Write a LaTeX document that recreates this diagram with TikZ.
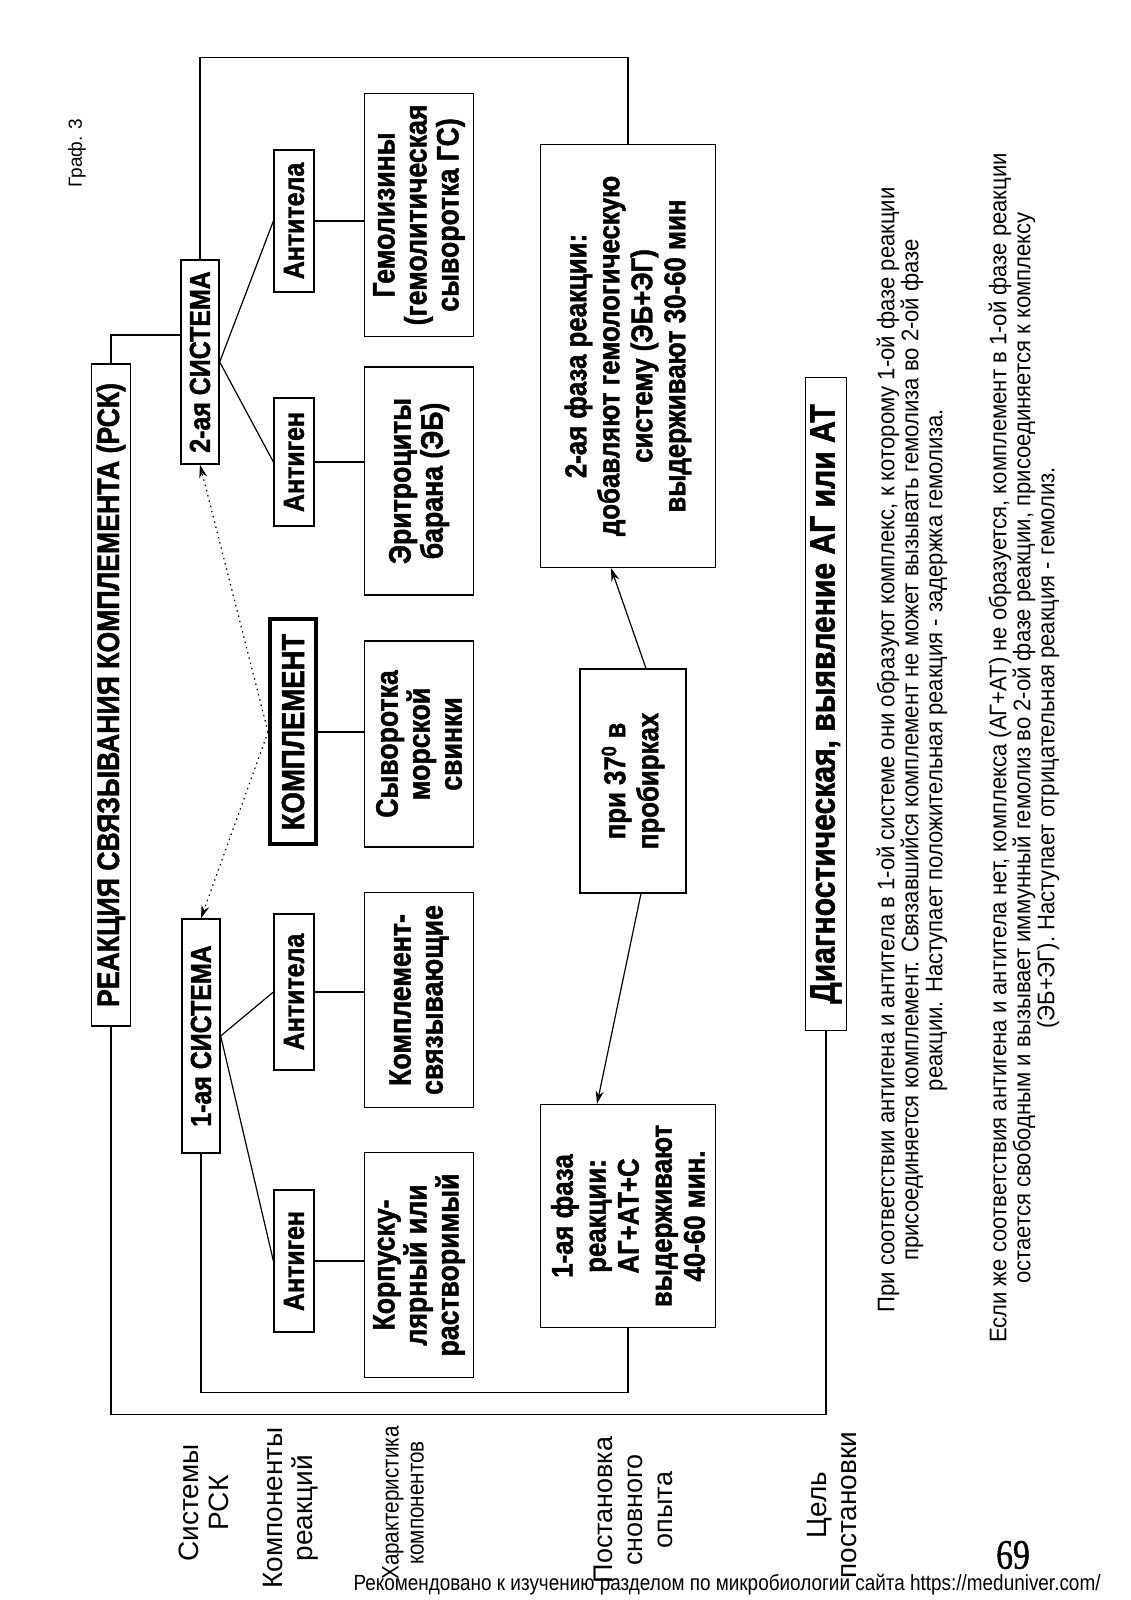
\documentclass[tikz,border=0pt]{standalone}
\usepackage{fontspec}
\setmainfont{Liberation Sans}
\newfontfamily\narrowsf{Liberation Sans}[FakeStretch=0.86, BoldFeatures={FakeBold=1.5}]
\newfontfamily\notesf{Liberation Sans}[FakeStretch=0.92]
\newfontfamily\numfont{Liberation Serif}[FakeStretch=0.8, FakeBold=1]
\usetikzlibrary{arrows.meta}

\begin{document}
\begin{tikzpicture}[x=1pt, y=1pt, line width=1.2pt, >={Stealth[length=13pt, width=8pt]},
  every node/.style={align=center, inner sep=0pt},
  bigbox/.style={draw, line width=1.4pt, font=\narrowsf\bfseries\fontsize{31}{33}\selectfont},
  sysbox/.style={draw, line width=1.4pt, minimum height=38pt, font=\narrowsf\bfseries\fontsize{29}{31}\selectfont},
  compbox/.style={draw, minimum height=40pt, font=\narrowsf\bfseries\fontsize{29}{31}\selectfont},
  charbox/.style={draw, minimum height=109pt, font=\narrowsf\bfseries\fontsize{31}{32}\selectfont},
  phasebox/.style={draw, font=\narrowsf\bfseries\fontsize{30}{33}\selectfont},
  rowlabel/.style={font=\fontsize{28}{30}\selectfont},
  notetext/.style={font=\notesf\fontsize{24}{24}\selectfont},
  dotarrow/.style={->, dash pattern=on 1.4pt off 4pt}]

% page
\fill[white] (0,0) rectangle (1131,1600);
\useasboundingbox (0,0) rectangle (1131,1600);

\begin{scope}[shift={(1131,0)}, rotate=90, transform shape]

% Nodes (landscape layout)
\node (graf) at (1447,1054) [font=\fontsize{19}{21}\selectfont] {Граф. 3};
\node (title) at (905,1020) [bigbox, minimum width=662pt, minimum height=39pt] {РЕАКЦИЯ СВЯЗЫВАНИЯ КОМПЛЕМЕНТА (РСК)};

\node (sys2) at (1238,931) [sysbox, minimum width=204pt] {2-ая СИСТЕМА};
\node (sys1) at (564,930) [sysbox, minimum width=234pt] {1-ая СИСТЕМА};

\node (ab2) at (1379,837) [compbox, minimum width=142pt] {Антитела};
\node (ag2) at (1138,837) [compbox, minimum width=128pt] {Антиген};
\node (komp) at (868,838) [compbox, line width=4pt, minimum width=225pt, minimum height=46pt, font=\narrowsf\bfseries\fontsize{32}{34}\selectfont] {КОМПЛЕМЕНТ};
\node (ab1) at (608,837) [compbox, minimum width=156pt] {Антитела};
\node (ag1) at (339,837) [compbox, minimum width=142pt] {Антиген};

\node (hem) at (1385,712) [charbox, minimum width=243pt] {Гемолизины\\(гемолитическая\\сыворотка ГС)};
\node (ery) at (1119,712) [charbox, minimum width=228pt] {Эритроциты\\барана (ЭБ)};
\node (serum) at (856,712) [charbox, minimum width=206pt] {Сыворотка\\морской\\свинки};
\node (cfab) at (600,712) [charbox, minimum width=215pt] {Комплемент-\\связывающие};
\node (corp) at (335,712) [charbox, minimum width=225pt] {Корпуску-\\лярный или\\растворимый};

\node (phase2) at (1244,503) [phasebox, minimum width=423pt, minimum height=175pt] {2-ая фаза реакции:\\добавляют гемологическую\\систему (ЭБ+ЭГ)\\выдерживают 30-60 мин};
\node (p37) at (819,498) [phasebox, minimum width=224pt, minimum height=106pt] {при 37\textsuperscript{0} в\\пробирках};
\node (phase1) at (384,503) [phasebox, minimum width=223pt, minimum height=175pt] {1-ая фаза\\реакции:\\АГ+АТ+С\\выдерживают\\40-60 мин.};

\node (diag) at (896,305) [bigbox, minimum width=653pt, minimum height=41pt, font=\narrowsf\bfseries\fontsize{35}{37}\selectfont] {Диагностическая, выявление АГ или АТ};

\node (note1) at (850,219) [notetext] {При соответствии антигена и антитела в 1-ой системе они образуют комплекс, к которому 1-ой фазе реакции\\присоединяется комплемент. Связавшийся комплемент не может вызывать гемолиза во 2-ой фазе\\реакции. Наступает положительная реакция - задержка гемолиза.};
\node (note2) at (852,107) [notetext] {Если же соответствия антигена и антитела нет, комплекса (АГ+АТ) не образуется, комплемент в 1-ой фазе реакции\\остается свободным и вызывает иммунный гемолиз во 2-ой фазе реакции, присоединяется к комплексу\\(ЭБ+ЭГ). Наступает отрицательная реакция - гемолиз.};

% row labels
\node (sysl) at (97,927) [rowlabel] {Системы\\РСК};
\node (compl) at (92,840) [rowlabel] {Компоненты\\реакций};
\node (charl) at (97,728) [font=\narrowsf\fontsize{24}{25}\selectfont] {Характеристика\\компонентов};
\node (setl) at (90,498) [rowlabel, font=\fontsize{27}{30}\selectfont] {Постановка\\сновного\\опыта};
\node (goall) at (95,299) [rowlabel] {Цель\\постановки};

% Lines
\draw (title.east) -| ([xshift=27pt]sys2.north);
\draw (title.west) -- ++(-388,0) |- (diag.west);
\draw (sys2.east) -- ++(202,0) |- (phase2.east);
\draw (sys1.west) -- ++(-239,0) |- (phase1.west);

\draw (sys2.south) -- (ab2.north);
\draw (sys2.south) -- (ag2.north);
\draw (sys1.south) -- (ab1.north);
\draw (sys1.south) -- (ag1.north);

\draw (ab2.south) -- (ab2.south |- hem.north);
\draw (ag2.south) -- (ag2.south |- ery.north);
\draw (komp.south) -- (komp.south |- serum.north);
\draw (ab1.south) -- (ab1.south |- cfab.north);
\draw (ag1.south) -- (ag1.south |- corp.north);

% Arrows
\draw[dotarrow] (komp.north) -- (sys2.west);
\draw[dotarrow] (komp.north) -- (sys1.east);
\draw[->] ([yshift=-13pt]p37.east) -- ([yshift=17pt]phase2.west);
\draw[->] ([yshift=-8pt]p37.west) -- ([yshift=31pt]phase1.east);

\end{scope}

% Footer
\node (pagenum) at (1013,45) [font=\numfont\fontsize{42}{42}\selectfont] {69};
\node (footer) at (727,15) [font=\narrowsf\fontsize{22}{24}\selectfont] {Рекомендовано к изучению разделом по микробиологии сайта https://meduniver.com/};
\end{tikzpicture}
\end{document}
